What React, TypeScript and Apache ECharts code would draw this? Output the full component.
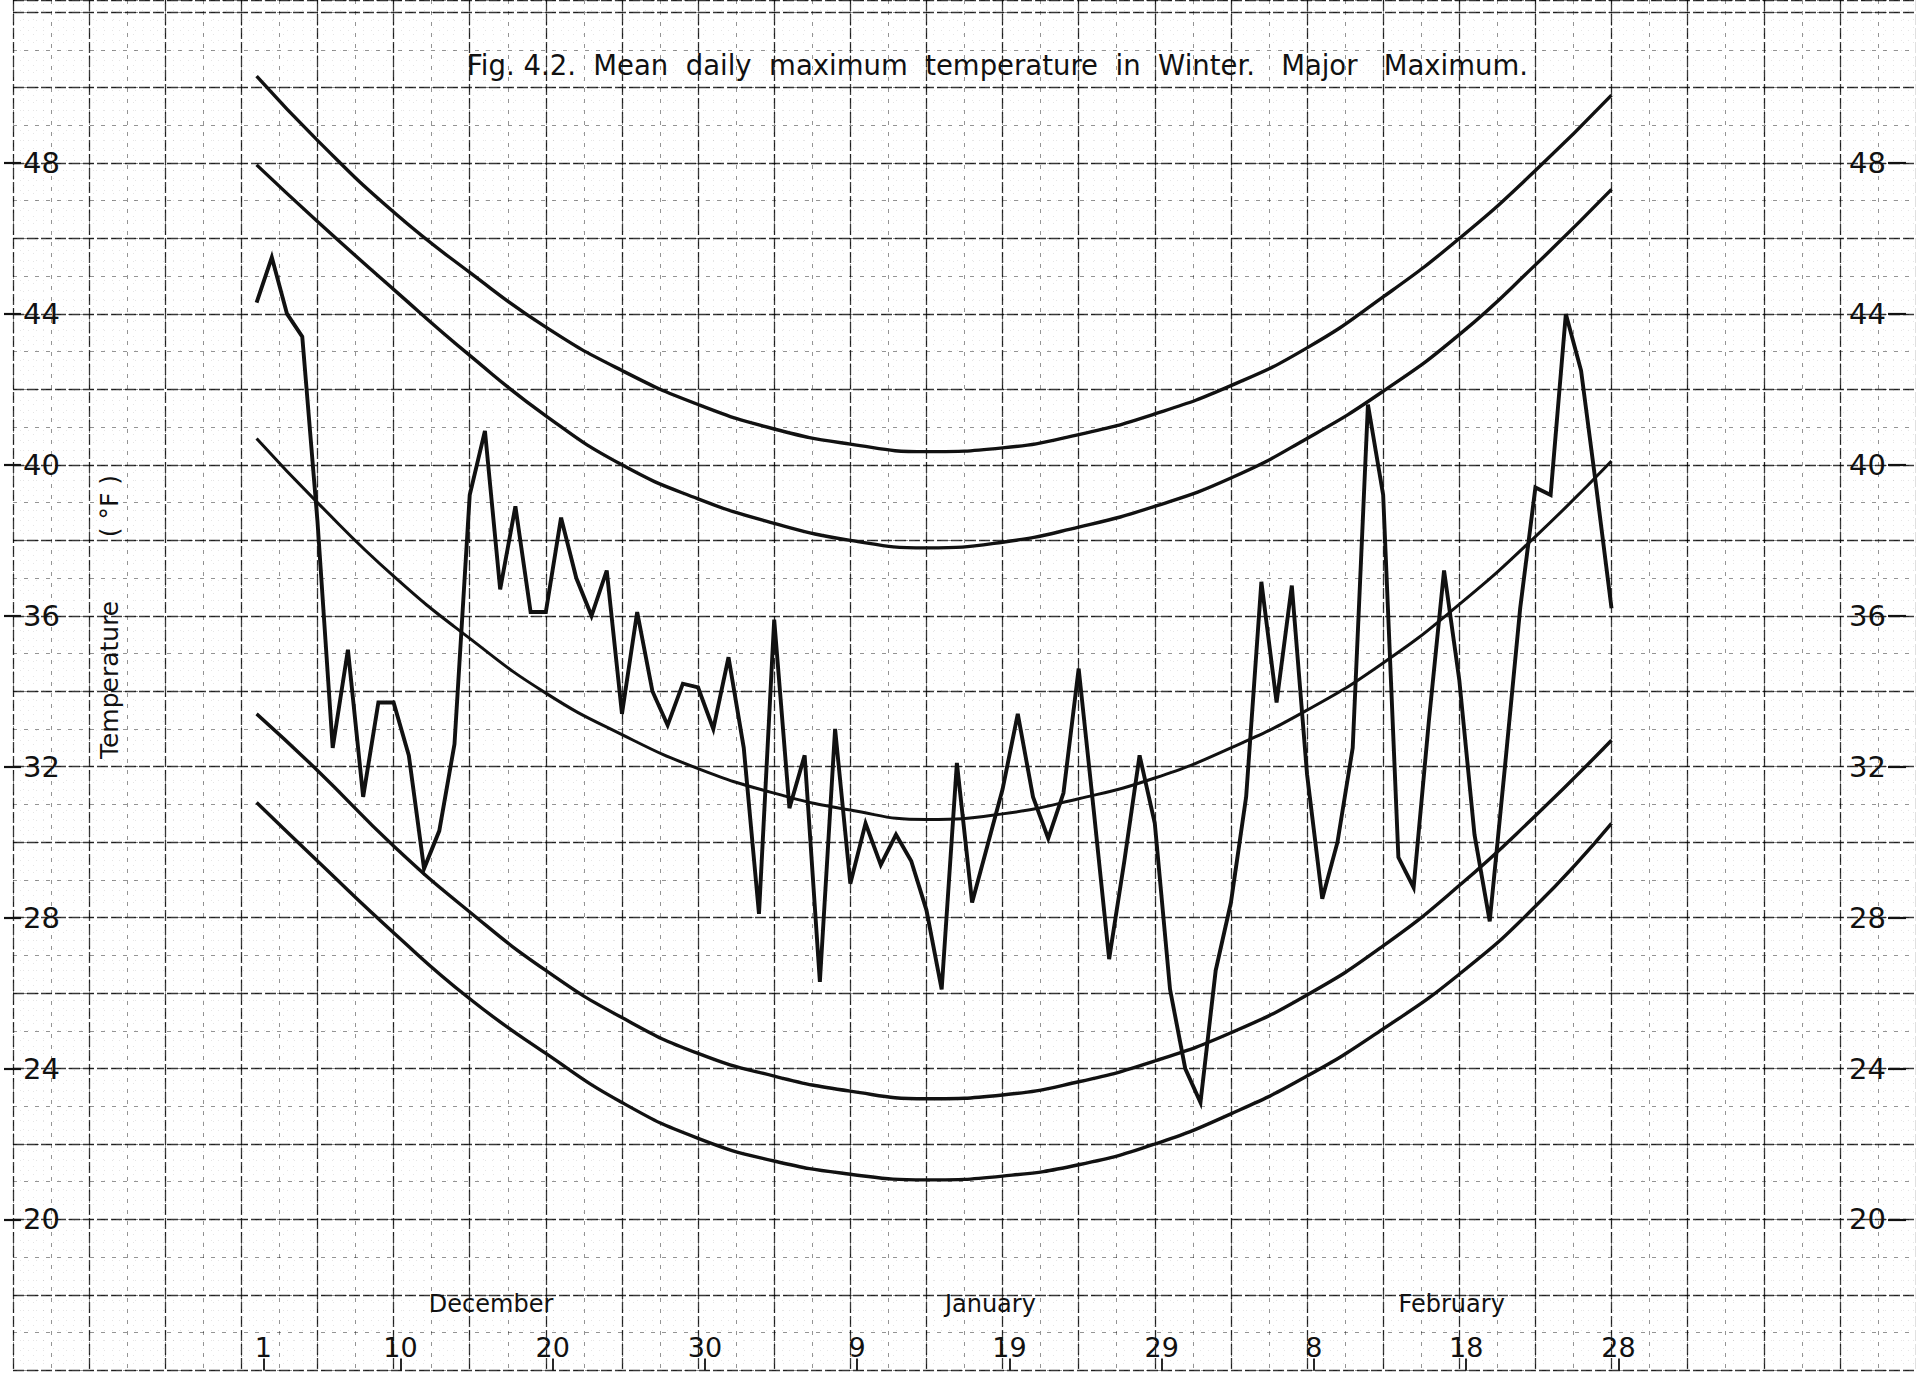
import React, { useEffect, useRef } from "react";
import * as echarts from "echarts";

const W = 1916;
const H = 1374;
const FONT = "DejaVu Sans";
const INK = "#111111";

// Mean daily maximum temperature (°F), day 1 = 1 December ... day 90 = 28 February
const dailyMaxTemp = [
  44.3, 45.5, 44.0, 43.4, 38.5, 32.5, 35.1, 31.2, 33.7, 33.7,
  32.3, 29.3, 30.3, 32.6, 39.2, 40.9, 36.7, 38.9, 36.1, 36.1,
  38.6, 37.0, 36.0, 37.2, 33.4, 36.1, 34.0, 33.1, 34.2, 34.1,
  33.0, 34.9, 32.5, 28.1, 35.9, 30.9, 32.3, 26.3, 33.0, 28.9,
  30.5, 29.4, 30.2, 29.5, 28.2, 26.1, 32.1, 28.4, 29.9, 31.4,
  33.4, 31.2, 30.1, 31.3, 34.6, 30.8, 26.9, 29.5, 32.3, 30.5,
  26.1, 24.0, 23.1, 26.6, 28.4, 31.2, 36.9, 33.7, 36.8, 31.8,
  28.5, 30.0, 32.5, 41.6, 39.2, 29.6, 28.8, 33.2, 37.2, 34.3,
  30.2, 27.9, 32.0, 36.2, 39.4, 39.2, 44.0, 42.5, 39.4, 36.2,
];

// Smooth envelope curves, sampled every 5 days
const curveDays = [1, 5, 10, 15, 20, 25, 30, 35, 40, 45, 50, 55, 60, 65, 70, 75, 80, 85, 90];
const upperOuter = [50.3, 48.6, 46.7, 45.1, 43.65, 42.5, 41.6, 40.95, 40.55, 40.35, 40.45, 40.8, 41.35, 42.1, 43.1, 44.45, 46.0, 47.8, 49.8];
const upperInner = [47.95, 46.45, 44.65, 42.9, 41.3, 40.0, 39.1, 38.45, 38.0, 37.8, 37.95, 38.35, 38.9, 39.65, 40.7, 41.95, 43.45, 45.3, 47.3];
const meanCurve = [40.7, 39.0, 37.05, 35.4, 33.95, 32.85, 31.95, 31.3, 30.85, 30.6, 30.75, 31.15, 31.7, 32.5, 33.5, 34.75, 36.3, 38.1, 40.1];
const lowerInner = [33.4, 31.9, 29.9, 28.15, 26.6, 25.35, 24.4, 23.8, 23.4, 23.2, 23.3, 23.65, 24.2, 24.95, 25.95, 27.25, 28.85, 30.7, 32.7];
const lowerOuter = [31.05, 29.5, 27.6, 25.85, 24.4, 23.1, 22.15, 21.55, 21.2, 21.05, 21.15, 21.45, 22.0, 22.8, 23.8, 25.05, 26.5, 28.3, 30.5];

// Axis ticks and labels
const xTickDays = [1, 10, 20, 30, 40, 50, 60, 70, 80, 90];
const xTickLabels = ["1", "10", "20", "30", "9", "19", "29", "8", "18", "28"];
const monthNames = ["December", "January", "February"];
const monthLabelDays = [16.4, 49.2, 79.5];
const yTickValues = [20, 24, 28, 32, 36, 40, 44, 48];

const titleText = "Fig. 4.2.  Mean  daily  maximum  temperature  in  Winter.   Major   Maximum.";

const hidden = {
  axisLine: { show: false, onZero: false },
  axisTick: { show: false },
  axisLabel: { show: false },
};

const majorLine = { color: "#000000", width: 1.3, type: [11, 3], opacity: 0.78 };
const mediumLine = { color: "#000000", width: 1, type: [4, 7], opacity: 0.42 };
const minorLine = { color: "#000000", width: 1, type: [1, 9], opacity: 0.1 };

function buildOption() {
  const curveSeries = [
    { name: "upperOuter", data: upperOuter, width: 3.4 },
    { name: "upperInner", data: upperInner, width: 3.4 },
    { name: "mean", data: meanCurve, width: 3.0 },
    { name: "lowerInner", data: lowerInner, width: 3.4 },
    { name: "lowerOuter", data: lowerOuter, width: 3.4 },
  ].map((c) => ({
    type: "line",
    name: c.name,
    xAxisIndex: 0,
    yAxisIndex: 0,
    smooth: 0.5,
    symbol: "none",
    silent: true,
    lineStyle: { color: INK, width: c.width },
    data: curveDays.map((d, i) => [d, c.data[i]]),
    z: 3,
  }));

  return {
    animation: false,
    backgroundColor: "#ffffff",
    title: {
      text: titleText,
      left: 462,
      top: 46,
      textStyle: { fontFamily: FONT, fontSize: 27.5, fontWeight: "normal", color: INK },
    },
    grid: { left: 13, right: 0, top: 0, bottom: 3.6, containLabel: false },
    xAxis: [
      {
        type: "value",
        min: -15,
        max: 110,
        interval: 5,
        ...hidden,
        splitLine: { show: true, lineStyle: majorLine },
      },
      {
        type: "value",
        min: -15,
        max: 110,
        interval: 2.5,
        ...hidden,
        splitLine: { show: true, lineStyle: mediumLine },
        minorTick: { show: false, splitNumber: 5 },
        minorSplitLine: { show: true, lineStyle: minorLine },
      },
      {
        type: "value",
        min: -15.45,
        max: 109.55,
        position: "bottom",
        axisLine: { show: false, onZero: false },
        axisTick: {
          show: true,
          inside: true,
          length: 12,
          customValues: xTickDays,
          lineStyle: { color: INK, width: 1.8 },
        },
        axisLabel: {
          show: true,
          inside: true,
          margin: 9,
          customValues: xTickDays,
          formatter: (v: number) => {
            const i = xTickDays.indexOf(Math.round(v));
            return i >= 0 ? xTickLabels[i] : "";
          },
          fontFamily: FONT,
          fontSize: 27,
          color: INK,
        },
        splitLine: { show: false },
      },
      {
        type: "value",
        min: -15,
        max: 110,
        position: "bottom",
        axisLine: { show: false, onZero: false },
        axisTick: { show: false },
        axisLabel: {
          show: true,
          inside: true,
          margin: 54,
          customValues: monthLabelDays,
          formatter: (v: number) => {
            let best = 0;
            monthLabelDays.forEach((d, i) => {
              if (Math.abs(d - v) < Math.abs(monthLabelDays[best] - v)) best = i;
            });
            return monthNames[best];
          },
          fontFamily: FONT,
          fontSize: 24,
          color: INK,
        },
        splitLine: { show: false },
      },
    ],
    yAxis: [
      {
        type: "value",
        min: 16,
        max: 52.32,
        interval: 2,
        ...hidden,
        splitLine: { show: true, lineStyle: majorLine },
      },
      {
        type: "value",
        min: 16,
        max: 52.32,
        interval: 1,
        ...hidden,
        splitLine: { show: true, lineStyle: mediumLine },
        minorTick: { show: false, splitNumber: 5 },
        minorSplitLine: { show: true, lineStyle: minorLine },
      },
      {
        type: "value",
        min: 16,
        max: 52.32,
        position: "left",
        offset: 9,
        axisLine: { show: false, onZero: false },
        axisTick: {
          show: true,
          inside: true,
          length: 17,
          customValues: yTickValues,
          lineStyle: { color: INK, width: 2.2 },
        },
        axisLabel: {
          show: true,
          inside: true,
          margin: 19,
          customValues: yTickValues,
          formatter: (v: number) => String(Math.round(v)),
          fontFamily: FONT,
          fontSize: 29,
          color: INK,
        },
        splitLine: { show: false },
      },
      {
        type: "value",
        min: 16,
        max: 52.32,
        position: "right",
        offset: -10,
        axisLine: { show: false, onZero: false },
        axisTick: {
          show: true,
          inside: true,
          length: 18,
          customValues: yTickValues,
          lineStyle: { color: INK, width: 2.2 },
        },
        axisLabel: {
          show: true,
          inside: true,
          margin: 20,
          customValues: yTickValues,
          formatter: (v: number) => String(Math.round(v)),
          fontFamily: FONT,
          fontSize: 29,
          color: INK,
        },
        splitLine: { show: false },
      },
    ],
    graphic: [
      {
        type: "text",
        x: 109,
        y: 617,
        rotation: Math.PI / 2,
        silent: true,
        style: {
          text: "Temperature        ( °F )",
          fontFamily: FONT,
          fontSize: 25,
          fill: INK,
          align: "center",
          verticalAlign: "middle",
          textAlign: "center",
          textVerticalAlign: "middle",
        },
      },
    ],
    series: [
      ...curveSeries,
      {
        type: "line",
        name: "Mean daily maximum",
        xAxisIndex: 0,
        yAxisIndex: 0,
        symbol: "none",
        silent: true,
        lineStyle: { color: INK, width: 3.9, join: "miter" },
        data: dailyMaxTemp.map((v, i) => [i + 1, v]),
        z: 4,
      },
    ],
  };
}

export default function App() {
  const ref = useRef<HTMLDivElement>(null);
  useEffect(() => {
    if (!ref.current) return;
    const chart = echarts.init(ref.current, null, { renderer: "svg", width: W, height: H });
    chart.setOption(buildOption() as any);
    return () => {
      chart.dispose();
    };
  }, []);
  return (
    <div
      ref={ref}
      style={{ position: "absolute", left: 0, top: 0, width: W, height: H, background: "#ffffff" }}
    />
  );
}
